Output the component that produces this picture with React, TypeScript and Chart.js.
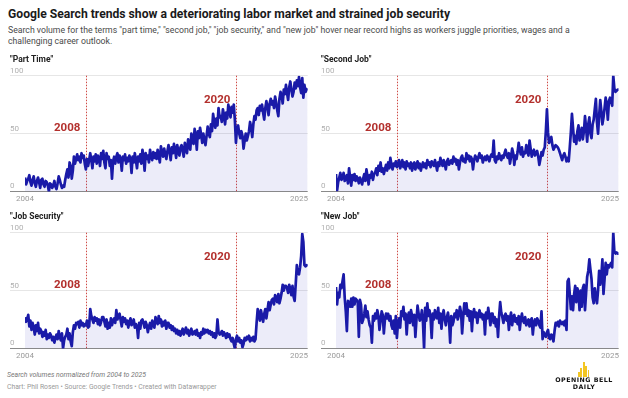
import React, { useEffect, useRef } from 'react';
import { Chart, registerables } from 'chart.js';

Chart.register(...registerables);
Chart.defaults.font.family = 'Roboto, sans-serif';

const START_YEAR = 2004;
const X_TICKS = [2004, 2025];
const Y_TICKS = [0, 50, 100];
const EVENT_YEARS = [2008.7, 2020.2];
const EVENT_LABELS = ['2008', '2020'];
const EVENT_LABEL_VALUES = [55, 79];
const PANEL_TITLES = ['"Part Time"', '"Second Job"', '"Job Security"', '"New Job"'];

// monthly values, Jan 2004 – Sep 2025
const PART_TIME = [
  12, 6, 9, 11, 14, 8, 5, 10, 13, 7, 4, 9,
  12, 8, 3, 10, 11, 6, 4, 9, 8, 5, 0, 7,
  6, 3, 5, 9, 4, 2, 7, 13, 10, 6, 3, 5,
  4, 10, 15, 19, 12, 25, 22, 11, 18, 30, 24, 28,
  32, 27, 30, 25, 33, 29, 31, 24, 19, 28, 22, 27,
  33, 27, 20, 30, 26, 32, 24, 31, 29, 22, 33, 28,
  35, 25, 20, 33, 28, 30, 22, 27, 11, 26, 30, 24,
  30, 33, 25, 31, 28, 18, 30, 27, 32, 24, 29, 26,
  31, 28, 16, 30, 25, 33, 27, 20, 30, 26, 32, 24,
  36, 30, 18, 33, 28, 31, 25, 36, 30, 27, 34, 29,
  33, 28, 36, 31, 25, 39, 34, 30, 37, 32, 28, 35,
  40, 34, 27, 38, 33, 41, 36, 29, 40, 35, 31, 38,
  40, 35, 30, 42, 37, 33, 45, 40, 36, 50, 44, 41,
  54, 48, 36, 52, 46, 55, 49, 42, 50, 44, 40, 48,
  56, 50, 47, 58, 52, 67, 60, 55, 63, 57, 72, 64,
  65, 60, 71, 66, 58, 68, 63, 75, 70, 64, 73, 68,
  75, 62, 42, 55, 57, 50, 46, 52, 48, 37, 44, 50,
  44, 48, 52, 60, 55, 47, 58, 65, 62, 70, 72, 66,
  74, 70, 75, 68, 62, 72, 78, 73, 66, 76, 80, 75,
  78, 72, 82, 77, 70, 65, 80, 86, 83, 76, 88, 84,
  92, 85, 79, 90, 95, 88, 82, 86, 94, 89, 96, 91,
  99, 90, 85, 98, 81, 92, 86, 88, 89,
];

const SECOND_JOB = [
  15, 1, 8, 12, 16, 10, 12, 16, 9, 11, 14, 7,
  20, 12, 5, 14, 10, 15, 9, 13, 11, 7, 12, 9,
  6, 11, 15, 9, 19, 13, 6, 14, 12, 17, 10, 15,
  16, 20, 14, 22, 18, 25, 17, 20, 15, 19, 23, 18,
  25, 20, 29, 23, 19, 24, 22, 26, 21, 23, 27, 20,
  23, 27, 21, 25, 19, 26, 22, 24, 20, 25, 18, 23,
  25, 19, 23, 26, 20, 24, 18, 22, 25, 21, 24, 20,
  27, 23, 25, 21, 26, 24, 22, 27, 23, 18, 25, 22,
  29, 25, 22, 27, 24, 19, 26, 28, 23, 25, 27, 24,
  30, 26, 28, 23, 27, 19, 25, 29, 31, 26, 28, 25,
  33, 28, 31, 26, 30, 28, 19, 27, 31, 29, 26, 30,
  33, 29, 31, 25, 28, 30, 27, 31, 29, 26, 30, 32,
  30, 44, 27, 25, 30, 28, 33, 29, 27, 31, 29, 33,
  36, 31, 29, 33, 24, 30, 37, 33, 23, 31, 28, 34,
  42, 36, 32, 38, 30, 34, 33, 40, 35, 31, 44, 37,
  30, 34, 36, 31, 33, 35, 30, 23, 28, 34, 31, 36,
  38, 52, 71, 51, 42, 45, 47, 40, 36, 38, 40, 39,
  38, 36, 33, 30, 27, 31, 33, 30, 26, 29, 26, 38,
  51, 67, 55, 43, 48, 41, 52, 57, 44, 50, 55, 45,
  52, 65, 55, 43, 58, 64, 50, 46, 58, 62, 71, 80,
  60, 50, 65, 79, 70, 58, 64, 72, 81, 75, 62, 78,
  81, 78, 74, 100, 89, 86, 87, 88, 88,
];

const JOB_SECURITY = [
  27, 23, 25, 29, 19, 24, 16, 22, 18, 12, 20, 15,
  22, 13, 17, 15, 10, 14, 11, 16, 8, 12, 9, 13,
  11, 7, 10, 5, 9, 12, 8, 15, 10, 7, 13, 0,
  7, 10, 12, 17, 8, 13, 6, 2, 14, 20, 17, 22,
  21, 23, 18, 24, 20, 22, 19, 21, 20, 24, 18, 19,
  34, 28, 25, 22, 27, 24, 26, 21, 25, 20, 23, 27,
  27, 23, 19, 25, 17, 22, 18, 26, 20, 24, 26, 22,
  33, 25, 28, 30, 24, 19, 27, 23, 26, 21, 24, 18,
  23, 26, 20, 22, 25, 18, 21, 19, 9, 22, 17, 24,
  25, 22, 18, 23, 20, 14, 19, 22, 17, 24, 20, 18,
  27, 24, 21, 28, 22, 25, 19, 23, 20, 24, 17, 22,
  22, 18, 20, 16, 19, 15, 17, 13, 16, 12, 15, 11,
  14, 17, 12, 15, 18, 13, 16, 11, 14, 17, 12, 13,
  15, 12, 16, 11, 13, 9, 14, 12, 17, 13, 16, 14,
  16, 13, 15, 12, 14, 10, 13, 9, 11, 25, 14, 12,
  13, 15, 11, 14, 12, 9, 13, 10, 12, 8, 6, 9,
  4, 0, 8, 11, 6, 9, 5, 7, 1, 4, 9, 7,
  10, 8, 11, 6, 9, 7, 10, 6, 8, 22, 34, 30,
  24, 33, 28, 23, 30, 34, 26, 33, 40, 33, 38, 42,
  43, 38, 46, 44, 40, 47, 39, 43, 48, 55, 50, 54,
  54, 52, 48, 55, 51, 46, 54, 45, 41, 56, 72, 66,
  64, 70, 80, 99, 92, 72, 71, 72, 71,
];

const NEW_JOB = [
  53, 38, 48, 44, 55, 52, 58, 64, 44, 32, 15, 41,
  40, 36, 43, 36, 44, 38, 43, 42, 40, 10, 42, 38,
  22, 25, 30, 37, 27, 32, 25, 20, 18, 5, 28, 24,
  30, 26, 33, 28, 16, 24, 32, 29, 13, 25, 30, 26,
  30, 24, 28, 20, 17, 24, 13, 28, 9, 22, 26, 18,
  32, 28, 36, 25, 30, 12, 27, 31, 22, 33, 28, 20,
  29, 10, 25, 37, 30, 24, 26, 33, 22, 0, 35, 24,
  39, 28, 33, 26, 9, 30, 25, 33, 27, 26, 35, 22,
  30, 17, 29, 33, 25, 20, 27, 31, 23, 5, 28, 20,
  23, 30, 27, 33, 25, 29, 36, 31, 13, 27, 39, 30,
  39, 28, 33, 24, 32, 15, 30, 34, 27, 31, 22, 29,
  33, 27, 30, 25, 29, 12, 31, 26, 35, 28, 20, 30,
  30, 22, 27, 19, 25, 10, 28, 40, 31, 27, 22, 28,
  30, 24, 28, 16, 26, 31, 20, 27, 29, 23, 26, 21,
  28, 16, 25, 30, 24, 22, 27, 20, 23, 25, 19, 24,
  26, 12, 22, 25, 20, 26, 24, 20, 18, 32, 8, 14,
  12, 10, 14, 16, 9, 8, 12, 11, 6, 15, 22, 20,
  23, 19, 24, 22, 21, 23, 20, 24, 16, 58, 60, 47,
  34, 45, 33, 47, 54, 40, 52, 48, 33, 50, 36, 52,
  55, 33, 48, 62, 67, 77, 68, 60, 44, 39, 52, 45,
  39, 50, 67, 55, 62, 77, 47, 60, 74, 64, 72, 70,
  72, 74, 70, 100, 84, 82, 83, 82, 82,
];

const SERIES = [PART_TIME, SECOND_JOB, JOB_SECURITY, NEW_JOB];

const LINE_COLOR = '#1a1aa8';
const FILL_COLOR = 'rgba(40,40,190,0.09)';
const RED = '#b3302d';
const RED_LINE = '#cf4a45';

const eventPlugin = {
  id: 'events',
  beforeDatasetsDraw(chart: any) {
    const { ctx, scales } = chart;
    const x = scales.x, y = scales.y;
    ctx.save();
    ctx.strokeStyle = RED_LINE;
    ctx.lineWidth = 1;
    ctx.setLineDash([1.5, 1.5]);
    EVENT_YEARS.forEach((yr) => {
      const px = Math.round(x.getPixelForValue(yr)) + 0.5;
      ctx.beginPath();
      ctx.moveTo(px, y.getPixelForValue(100));
      ctx.lineTo(px, y.getPixelForValue(0));
      ctx.stroke();
    });
    ctx.restore();
  },
  afterDatasetsDraw(chart: any) {
    const { ctx, scales } = chart;
    const x = scales.x, y = scales.y;
    ctx.save();
    ctx.fillStyle = RED;
    ctx.font = 'bold 11.5px Roboto, sans-serif';
    ctx.textAlign = 'right';
    ctx.textBaseline = 'middle';
    EVENT_YEARS.forEach((yr, i) => {
      ctx.fillText(EVENT_LABELS[i], x.getPixelForValue(yr) - 6, y.getPixelForValue(EVENT_LABEL_VALUES[i]));
    });
    ctx.restore();
  },
};

const CW = 301;
const CH = 153;

function Panel({ title, values, left, top }: { title: string; values: number[]; left: number; top: number }) {
  const ref = useRef<HTMLCanvasElement>(null);
  useEffect(() => {
    const points = values.map((v, i) => ({ x: START_YEAR + i / 12, y: v }));
    const xMax = START_YEAR + (values.length - 1) / 12;
    const chart = new Chart(ref.current as HTMLCanvasElement, {
      type: 'line',
      data: {
        datasets: [
          {
            data: points,
            borderColor: LINE_COLOR,
            backgroundColor: FILL_COLOR,
            fill: 'origin',
            borderWidth: 2.7,
            pointRadius: 0,
            tension: 0,
            borderJoinStyle: 'round',
          } as any,
        ],
      },
      options: {
        animation: false,
        responsive: false,
        maintainAspectRatio: false,
        layout: { padding: { left: 0, right: 0, top: 0, bottom: 0 } },
        plugins: {
          legend: { display: false },
          tooltip: { enabled: false },
          title: {
            display: true,
            text: title,
            align: 'start',
            color: '#222',
            font: { size: 8.5, weight: 'bold' },
            padding: { top: 1, bottom: 10.5 },
          },
        },
        scales: {
          x: {
            type: 'linear',
            min: START_YEAR,
            max: xMax,
            grid: { display: false, drawTicks: false },
            border: { display: false },
            afterBuildTicks: (s: any) => {
              s.ticks = X_TICKS.map((v) => ({ value: v }));
            },
            ticks: {
              color: '#9a9a9a',
              font: { size: 8 },
              padding: 3,
              maxRotation: 0,
              autoSkip: false,
              callback: (v: any) => String(v),
            },
          },
          y: {
            min: 0,
            max: 100,
            afterBuildTicks: (s: any) => {
              s.ticks = Y_TICKS.map((v) => ({ value: v }));
            },
            afterFit: (s: any) => {
              s.width = 15;
            },
            grid: {
              color: (c: any) => (c.tick && c.tick.value === 0 ? '#8a8a8a' : '#e6e6e6'),
              drawTicks: true,
              tickLength: 15,
              lineWidth: 1,
            },
            border: { display: false },
            ticks: {
              crossAlign: 'far',
              padding: 0,
              labelOffset: -5,
              color: '#b0b0b0',
              font: { size: 8 },
            },
          },
        },
      } as any,
      plugins: [eventPlugin],
    });
    return () => chart.destroy();
  }, []);
  return (
    <canvas
      ref={ref}
      width={CW}
      height={CH}
      style={{ position: 'absolute', left, top, width: CW, height: CH }}
    />
  );
}

export default function App() {
  const font = 'Roboto, sans-serif';
  const bars = [5, 9, 15, 11, 7];
  return (
    <div
      style={{
        position: 'fixed',
        left: 0,
        top: 0,
        width: 628,
        height: 398,
        background: '#fff',
        overflow: 'hidden',
        fontFamily: font,
      }}
    >
      <div
        style={{
          position: 'absolute',
          left: 8,
          top: 6,
          fontSize: 12.15,
          lineHeight: '16px',
          fontWeight: 700,
          color: '#1a1a1a',
          whiteSpace: 'nowrap',
        }}
      >
        Google Search trends show a deteriorating labor market and strained job security
      </div>
      <div
        style={{
          position: 'absolute',
          left: 8,
          top: 25,
          fontSize: 8.7,
          lineHeight: '11px',
          color: '#4a4a4a',
          whiteSpace: 'nowrap',
        }}
      >
        Search volume for the terms "part time," "second job," "job security," and "new job" hover near record highs as workers juggle priorities, wages and a
        <br />
        challenging career outlook.
      </div>
      <Panel title={PANEL_TITLES[0]} values={SERIES[0]} left={10} top={54} />
      <Panel title={PANEL_TITLES[1]} values={SERIES[1]} left={321} top={54} />
      <Panel title={PANEL_TITLES[2]} values={SERIES[2]} left={10} top={211} />
      <Panel title={PANEL_TITLES[3]} values={SERIES[3]} left={321} top={211} />
      <div
        style={{
          position: 'absolute',
          left: 7,
          top: 370,
          fontSize: 6.9,
          lineHeight: '10px',
          fontStyle: 'italic',
          color: '#777',
          whiteSpace: 'nowrap',
        }}
      >
        Search volumes normalized from 2004 to 2025
      </div>
      <div
        style={{
          position: 'absolute',
          left: 7,
          top: 382,
          fontSize: 6.8,
          lineHeight: '10px',
          color: '#999',
          whiteSpace: 'nowrap',
        }}
      >
        Chart: Phil Rosen • Source: Google Trends • Created with Datawrapper
      </div>
      <div style={{ position: 'absolute', left: 578, top: 364, height: 13, display: 'flex', alignItems: 'flex-end', gap: 0.6 }}>
        {bars.map((h, i) => (
          <div key={i} style={{ width: 1.8, height: h, background: '#f3c623' }} />
        ))}
      </div>
      <div
        style={{
          position: 'absolute',
          left: 548,
          width: 72,
          top: 377,
          textAlign: 'center',
          fontFamily: '"DejaVu Sans", sans-serif',
          fontWeight: 700,
          fontSize: 6.3,
          lineHeight: '6.5px',
          letterSpacing: 0.5,
          color: '#111',
        }}
      >
        OPENING BELL
        <br />
        DAILY
      </div>
    </div>
  );
}
